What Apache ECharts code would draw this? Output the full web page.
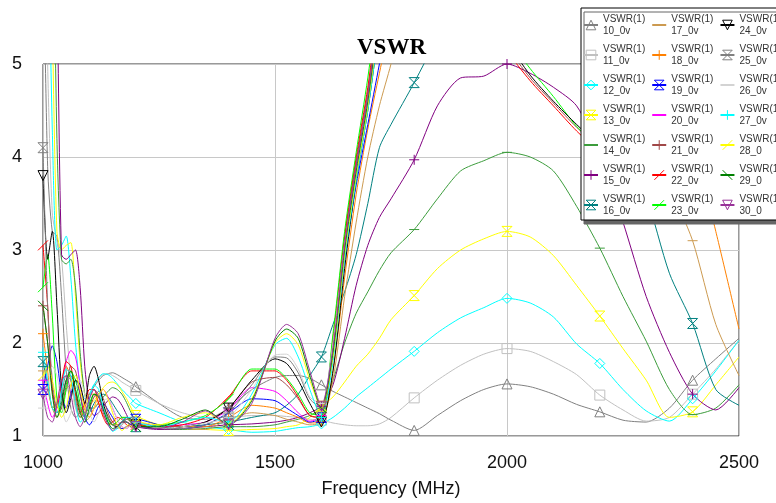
<!DOCTYPE html>
<html>
<head>
<meta charset="utf-8">
<script src="https://cdn.jsdelivr.net/npm/echarts@6/dist/echarts.min.js"></script>
<style>html,body{margin:0;padding:0;background:#fff}#c{width:776px;height:503px}</style>
</head>
<body>
<div id="c"></div>
<script>
// Frequency grid (MHz)
const freq = [1000,1010,1020,1030,1040,1050,1060,1070,1080,1090,1100,
  1110,1120,1130,1140,1150,1160,1170,1180,1190,1200,
  1250,1300,1350,1400,1450,1500,1525,1550,
  1575,1600,1625,1650,1675,1700,1725,1750,
  1800,1850,1900,1950,2000,2050,2100,2150,2200,2250,2300,2350,2400,2450,2500];
const markerFreqs = [1000,1200,1400,1600,1800,2000,2200,2400];
const xTicks = [1000,1500,2000,2500];
const yTicks = [1,2,3,4,5];

const vswr10 = [6.5,3.9,3.2,3.15,2.5,1.7,1.3,1.2,1.25,1.35,1.45,
  1.53,1.6,1.65,1.67,1.68,1.66,1.63,1.6,1.57,1.53,
  1.35,1.2,1.18,1.3,1.5,1.63,1.65,1.65,
  1.62,1.55,1.48,1.42,1.36,1.3,1.24,1.17,
  1.06,1.22,1.38,1.5,1.56,1.53,1.45,1.34,1.26,1.17,1.15,1.3,1.6,1.83,2.05];
const vswr11 = [8,5.0,3.4,3.1,2.9,2.2,1.6,1.3,1.2,1.3,1.45,
  1.55,1.62,1.66,1.67,1.65,1.62,1.58,1.55,1.52,1.49,
  1.35,1.25,1.2,1.2,1.22,1.22,1.21,1.2,
  1.18,1.17,1.14,1.12,1.11,1.11,1.13,1.2,
  1.41,1.6,1.76,1.88,1.94,1.91,1.8,1.66,1.44,1.28,1.16,1.2,1.45,1.72,2.03];
const vswr12 = [10,7,4.3,3.0,3.05,3.15,2.7,2.0,1.55,1.4,1.45,
  1.55,1.63,1.67,1.66,1.62,1.56,1.5,1.45,1.4,1.35,
  1.25,1.15,1.1,1.07,1.04,1.05,1.07,1.09,
  1.1,1.13,1.2,1.3,1.42,1.52,1.62,1.72,
  1.91,2.11,2.27,2.38,2.48,2.43,2.28,1.99,1.78,1.5,1.27,1.16,1.4,1.7,2.03];
const vswr13 = [12,8.5,5.5,3.2,3.0,3.05,3.08,2.5,1.8,1.45,1.35,
  1.38,1.45,1.52,1.57,1.58,1.55,1.48,1.4,1.3,1.22,
  1.12,1.08,1.07,1.06,1.07,1.08,1.1,1.12,
  1.2,1.32,1.42,1.58,1.75,1.88,2.05,2.25,
  2.51,2.8,3.0,3.12,3.2,3.14,2.94,2.62,2.29,1.94,1.6,1.2,1.26,1.55,1.85];
const vswr14 = [14,11,7.5,4.2,2.9,2.85,2.9,2.6,1.9,1.45,1.3,
  1.3,1.36,1.42,1.48,1.52,1.5,1.45,1.36,1.25,1.15,
  1.08,1.07,1.08,1.1,1.1,1.12,1.15,1.18,
  1.22,1.3,1.6,2.0,2.32,2.55,2.78,2.97,
  3.22,3.55,3.85,3.96,4.05,4.0,3.85,3.47,3.02,2.5,2.02,1.5,1.23,1.3,1.55];
const vswr15 = [15,12,9,6,2.95,2.9,2.95,3.0,2.6,1.75,1.35,
  1.22,1.25,1.32,1.38,1.42,1.4,1.33,1.23,1.14,1.1,
  1.07,1.08,1.1,1.12,1.13,1.15,1.17,1.2,
  1.25,1.32,1.55,2.05,2.62,3.05,3.35,3.55,
  3.97,4.55,4.85,4.87,5.0,4.9,4.75,4.55,4.05,3.3,2.5,1.9,1.45,1.28,1.52];
const vswr16 = [1.8,1.55,1.3,1.25,1.4,1.6,1.65,1.5,1.3,1.2,1.25,
  1.35,1.42,1.45,1.42,1.35,1.27,1.2,1.15,1.12,1.1,
  1.08,1.1,1.12,1.15,1.2,1.25,1.33,1.45,
  1.65,1.85,2.2,2.55,2.95,3.5,4.1,4.35,
  4.8,5.3,6,6.3,6.4,6.3,6.0,5.5,4.9,4.3,3.6,2.75,2.21,1.5,1.33];
const vswr17 = [1.7,1.5,1.3,1.2,1.3,1.5,1.55,1.45,1.3,1.15,1.2,
  1.3,1.35,1.3,1.22,1.15,1.1,1.08,1.1,1.12,1.12,
  1.1,1.08,1.07,1.18,1.25,1.22,1.18,1.15,
  1.12,1.15,1.6,2.5,3.3,4.0,4.55,5.0,
  6.0,6.8,7.2,7.2,7.0,6.8,6.5,6.2,5.8,5.2,4.4,3.7,3.1,2.2,1.65];
const vswr18 = [2.1,1.7,1.3,1.35,1.6,1.75,1.6,1.35,1.2,1.3,1.45,
  1.45,1.35,1.22,1.15,1.12,1.15,1.2,1.2,1.15,1.12,
  1.1,1.1,1.1,1.2,1.33,1.3,1.25,1.2,
  1.14,1.15,1.7,2.7,3.6,4.3,4.9,5.5,
  6.6,7.2,7.6,7.8,7.6,7.4,7.1,6.8,6.4,5.9,5.3,4.8,4.2,3.2,2.15];
const vswr19 = [1.5,1.75,1.97,1.8,1.45,1.3,1.45,1.6,1.45,1.2,1.12,
  1.2,1.32,1.35,1.28,1.2,1.12,1.08,1.1,1.15,1.18,
  1.12,1.08,1.12,1.25,1.4,1.38,1.3,1.22,
  1.15,1.2,1.85,2.9,3.7,4.35,5.0,5.7,
  7.0,7.5,8,8,8,8,8,7.8,7.5,7.2,6.8,6.4,6.0,5.6,5.2];
const vswr20 = [1.6,1.35,1.2,1.3,1.55,1.8,1.92,1.85,1.55,1.3,1.2,
  1.3,1.45,1.5,1.42,1.3,1.18,1.1,1.08,1.12,1.15,
  1.1,1.12,1.15,1.28,1.52,1.48,1.38,1.25,
  1.16,1.22,2.0,3.1,3.9,4.6,5.4,6.1,
  7.2,7.8,8,8,8,8,8,7.8,7.6,7.3,7.0,6.6,6.2,5.8,5.4];
const vswr21 = [2.4,2.0,1.5,1.25,1.3,1.55,1.75,1.7,1.45,1.25,1.3,
  1.42,1.48,1.4,1.25,1.15,1.12,1.15,1.18,1.15,1.1,
  1.12,1.1,1.15,1.3,1.58,1.63,1.55,1.4,
  1.22,1.2,2.0,3.1,3.95,4.7,5.6,6.3,
  7.0,7.0,6.5,5.8,5.2,4.85,4.58,4.32,4.1,3.9,3.75,3.65,3.6,3.65,3.8];
const vswr22 = [3.05,2.4,1.5,1.3,1.55,1.8,1.75,1.45,1.25,1.35,1.5,
  1.5,1.35,1.2,1.12,1.15,1.2,1.18,1.12,1.1,1.12,
  1.1,1.12,1.2,1.42,1.7,1.7,1.6,1.42,
  1.22,1.2,2.05,3.15,4.0,4.75,5.7,6.4,
  7.0,7.0,6.4,5.7,5.15,4.82,4.55,4.28,4.05,3.85,3.7,3.6,3.55,3.6,3.75];
const vswr23 = [2.6,2.95,2.3,1.4,1.25,1.5,1.7,1.6,1.35,1.22,1.35,
  1.45,1.42,1.3,1.18,1.12,1.15,1.2,1.2,1.15,1.1,
  1.12,1.15,1.22,1.4,1.72,1.72,1.62,1.45,
  1.25,1.22,2.1,3.2,4.05,4.85,5.8,6.5,
  7.2,7.2,6.6,5.9,5.3,4.95,4.65,4.33,4.1,3.9,3.75,3.65,3.6,3.65,3.8];
const vswr24 = [3.8,2.9,3.2,2.4,1.5,1.25,1.4,1.6,1.55,1.35,1.65,
  1.75,1.6,1.35,1.2,1.12,1.1,1.15,1.2,1.18,1.12,
  1.08,1.1,1.15,1.3,1.6,1.83,1.78,1.6,
  1.35,1.15,1.7,2.8,3.75,4.5,5.4,6.2,
  7.0,7.0,6.5,5.8,5.25,4.88,4.6,4.35,4.12,3.92,3.78,3.68,3.62,3.66,3.8];
const vswr25 = [4.1,2.4,1.6,1.3,1.45,1.65,1.6,1.4,1.2,1.25,1.4,
  1.5,1.45,1.3,1.2,1.12,1.08,1.12,1.18,1.2,1.15,
  1.1,1.08,1.12,1.25,1.55,1.85,1.84,1.68,
  1.4,1.3,1.95,3.05,3.9,4.65,5.6,6.3,
  7.5,8,8,8,8,8,7.8,7.5,7.2,6.9,6.5,6.1,5.8,5.5,5.2];
const vswr26 = [1.3,1.5,1.75,1.65,1.35,1.15,1.25,1.5,1.6,1.45,1.25,
  1.15,1.25,1.38,1.4,1.3,1.18,1.1,1.08,1.12,1.15,
  1.08,1.1,1.14,1.2,1.5,1.87,1.88,1.72,
  1.42,1.35,2.0,3.05,3.85,4.6,5.5,6.3,
  7.5,8,8,8,8,8,7.8,7.6,7.3,7.0,6.7,6.3,6.0,5.7,5.4];
const vswr27 = [1.9,1.6,1.3,1.25,1.5,1.72,1.65,1.35,1.15,1.2,1.4,
  1.55,1.5,1.3,1.15,1.05,1.08,1.15,1.2,1.2,1.15,
  1.1,1.15,1.2,1.15,1.45,1.98,2.05,1.85,
  1.5,1.2,1.8,2.9,3.75,4.5,5.4,6.2,
  7.5,8,8,8,8,8,7.9,7.7,7.4,7.1,6.8,6.4,6.1,5.8,5.5];
const vswr28 = [1.65,1.75,1.6,1.35,1.2,1.3,1.55,1.65,1.5,1.3,1.2,
  1.3,1.45,1.5,1.4,1.25,1.12,1.06,1.1,1.15,1.15,
  1.12,1.2,1.25,1.13,1.4,2.0,2.1,1.98,
  1.6,1.3,1.85,2.95,3.8,4.55,5.5,6.3,
  7.5,8,8,8,8,8,7.9,7.7,7.5,7.2,6.9,6.5,6.2,5.9,5.6];
const vswr29 = [2.4,2.0,1.45,1.2,1.35,1.6,1.7,1.5,1.25,1.15,1.3,
  1.45,1.42,1.28,1.15,1.08,1.1,1.15,1.15,1.12,1.1,
  1.1,1.18,1.28,1.12,1.38,2.02,2.15,2.05,
  1.65,1.3,1.9,3.0,3.85,4.6,5.55,6.4,
  7.5,8,8,8,8,8,8,7.8,7.6,7.3,7.0,6.6,6.3,6.0,5.7];
const vswr30 = [1.45,1.2,1.15,1.35,1.6,1.65,1.45,1.2,1.1,1.2,1.4,
  1.5,1.42,1.25,1.12,1.06,1.1,1.15,1.15,1.12,1.1,
  1.08,1.15,1.27,1.12,1.35,2.05,2.2,2.1,
  1.7,1.32,1.95,3.05,3.9,4.65,5.6,6.4,
  7.5,8,8,8,8,8,8,7.8,7.6,7.4,7.1,6.8,6.5,6.2,5.9];

const seriesLabels = ['10_0v','11_0v','12_0v','13_0v','14_0v','15_0v','16_0v',
  '17_0v','18_0v','19_0v','20_0v','21_0v','22_0v','23_0v',
  '24_0v','25_0v','26_0v','27_0v','28_0','29_0','30_0'];
const seriesValues = [vswr10,vswr11,vswr12,vswr13,vswr14,vswr15,vswr16,vswr17,vswr18,vswr19,vswr20,
  vswr21,vswr22,vswr23,vswr24,vswr25,vswr26,vswr27,vswr28,vswr29,vswr30];
const seriesColors = ['#808080','#c0c0c0','#00ffff','#ffff00','#3c9c3c','#800080','#008080',
  '#cc9a50','#ff8000','#0000ff','#ff00ff','#a04848','#ff0000','#00ff00',
  '#000000','#808080','#d3d3d3','#00ffff','#ffff00','#008000','#993399'];

const SYM = {
  tri: 'path://M5,0L10,10L0,10Z',
  sq: 'path://M0,0L10,0L10,10L0,10Z',
  dia: 'path://M5,0L10,5L5,10L0,5Z',
  hg: 'path://M0,0L10,0L0,10L10,10Z',
  dash: 'path://M0,5L10,5M5,0L5,0.01M5,9.99L5,10',
  plus: 'path://M5,0L5,10M0,5L10,5',
  slash: 'path://M2,9L8,1',
  bslash: 'path://M1,2L9,8',
  itri: 'path://M0,0L10,0L5,10Z'
};
const seriesSymbols = ['tri','sq','dia','hg','dash','plus','hg',
  'dash','plus','hg','dash','plus','slash','slash',
  'itri','hg','dash','plus','slash','bslash','itri'];

const series = seriesValues.map((vals, k) => ({
  name: 'VSWR(1)\n' + seriesLabels[k],
  type: 'line',
  smooth: 0.25,
  clip: true,
  silent: true,
  showAllSymbol: true,
  symbol: SYM[seriesSymbols[k]],
  symbolSize: 10,
  lineStyle: { color: seriesColors[k], width: 1 },
  itemStyle: { color: 'rgba(255,255,255,0)', borderColor: seriesColors[k], borderWidth: 1 },
  emphasis: { disabled: true },
  data: freq.map((f, i) => markerFreqs.includes(f)
    ? { value: [f, vals[i]] }
    : { value: [f, vals[i]], symbol: 'none' })
}));

const chart = echarts.init(document.getElementById('c'), null, { renderer: 'canvas' });
chart.setOption({
  animation: false,
  backgroundColor: '#ffffff',
  title: {
    text: 'VSWR', left: 352, top: 32,
    textStyle: { fontFamily: 'Liberation Serif', fontWeight: 'bold', fontSize: 23, color: '#000' }
  },
  grid: { left: 43, right: 37, top: 64, bottom: 65, show: true, borderColor: '#333', borderWidth: 1, backgroundColor: 'transparent' },
  xAxis: {
    type: 'value', min: xTicks[0], max: xTicks[xTicks.length - 1], interval: 500,
    axisLine: { show: false }, axisTick: { show: false },
    axisLabel: { fontSize: 18, color: '#111', margin: 18, fontFamily: 'Liberation Sans', formatter: v => String(v) },
    splitLine: { show: true, lineStyle: { color: '#c8c8c8', width: 1 } },
    name: 'Frequency (MHz)', nameLocation: 'middle', nameGap: 44,
    nameTextStyle: { fontSize: 18, color: '#111', fontFamily: 'Liberation Sans' }
  },
  yAxis: {
    type: 'value', min: yTicks[0], max: yTicks[yTicks.length - 1], interval: 1,
    axisLine: { show: false }, axisTick: { show: false },
    axisLabel: { fontSize: 18, color: '#111', margin: 21, fontFamily: 'Liberation Sans', formatter: v => String(v) },
    splitLine: { show: true, lineStyle: { color: '#c8c8c8', width: 1 } }
  },
  legend: {
    orient: 'vertical', left: 581, top: 8, height: 210,
    itemWidth: 14, itemHeight: 12, itemGap: 6,
    padding: [5, 4, 3, 2],
    selectedMode: false,
    backgroundColor: '#ffffff', borderColor: '#000', borderWidth: 1,
    shadowColor: '#666666', shadowOffsetX: 3, shadowOffsetY: 4, shadowBlur: 0,
    itemStyle: { color: 'rgba(255,255,255,0)', borderWidth: 1 },
    textStyle: { fontSize: 10, lineHeight: 12, color: '#333', fontFamily: 'Liberation Sans' },
    data: series.map(s => s.name)
  },
  series: series
});
</script>
</body>
</html>
